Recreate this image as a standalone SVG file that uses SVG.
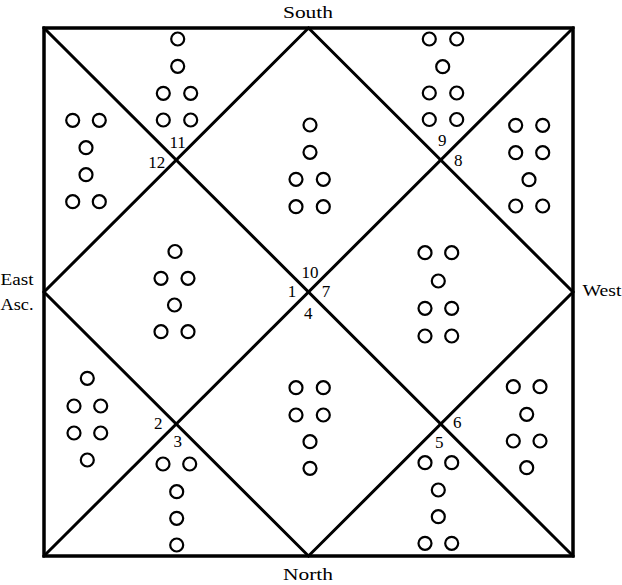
<svg xmlns="http://www.w3.org/2000/svg" width="622" height="585" viewBox="0 0 622 585">
<style>
.ln{stroke:#000;stroke-width:3;fill:none;stroke-linecap:square}
.bd{stroke:#000;stroke-width:3.5;fill:none}
circle{fill:#fff;stroke:#000;stroke-width:2.2}
text{font-family:"Liberation Serif","Times New Roman",serif;font-size:17px;fill:#000;text-anchor:middle}
</style>
<rect width="622" height="585" fill="#fff"/>
<g id="connectors">
<rect class="bd" x="44" y="28" width="529" height="528"/>
<line class="ln" x1="44" y1="28" x2="573" y2="556"/>
<line class="ln" x1="573" y1="28" x2="44" y2="556"/>
<polygon class="ln" points="308.5,28 573,292 308.5,556 44,292"/>
</g>
<g id="labels">
<text x="308" y="18" textLength="50" lengthAdjust="spacingAndGlyphs">South</text>
<text x="308" y="580" textLength="50" lengthAdjust="spacingAndGlyphs">North</text>
<text x="17" y="285" textLength="33" lengthAdjust="spacingAndGlyphs">East</text>
<text x="17" y="310" textLength="33" lengthAdjust="spacingAndGlyphs">Asc.</text>
<text x="602" y="296" textLength="39" lengthAdjust="spacingAndGlyphs">West</text>
</g>
<g id="house1"><text x="292" y="297">1</text>
<circle cx="175" cy="251.5" r="6.5"/><circle cx="161" cy="278.3" r="6.5"/><circle cx="188" cy="278.3" r="6.5"/><circle cx="174.5" cy="305" r="6.5"/><circle cx="161" cy="331.7" r="6.5"/><circle cx="188" cy="331.7" r="6.5"/></g>
<g id="house2"><text x="158.3" y="428.5">2</text>
<circle cx="87.3" cy="378.3" r="6.5"/><circle cx="74" cy="406" r="6.5"/><circle cx="100.7" cy="406" r="6.5"/><circle cx="74" cy="433" r="6.5"/><circle cx="100.7" cy="433" r="6.5"/><circle cx="87.3" cy="460" r="6.5"/></g>
<g id="house3"><text x="177.7" y="446.5">3</text>
<circle cx="163" cy="464" r="6.5"/><circle cx="189.7" cy="464" r="6.5"/><circle cx="176.7" cy="491.7" r="6.5"/><circle cx="176.7" cy="518.3" r="6.5"/><circle cx="176.7" cy="545" r="6.5"/></g>
<g id="house4"><text x="308.3" y="318.5">4</text>
<circle cx="296" cy="387.7" r="6.5"/><circle cx="323.3" cy="387.7" r="6.5"/><circle cx="296" cy="415" r="6.5"/><circle cx="323.3" cy="415" r="6.5"/><circle cx="310" cy="441.7" r="6.5"/><circle cx="310" cy="468.3" r="6.5"/></g>
<g id="house5"><text x="439.3" y="447.5">5</text>
<circle cx="425" cy="462.7" r="6.5"/><circle cx="451.7" cy="462.7" r="6.5"/><circle cx="438.3" cy="490" r="6.5"/><circle cx="438.3" cy="516.7" r="6.5"/><circle cx="425" cy="543.3" r="6.5"/><circle cx="451.7" cy="543.3" r="6.5"/></g>
<g id="house6"><text x="457.3" y="427.5">6</text>
<circle cx="513.3" cy="386.7" r="6.5"/><circle cx="540" cy="386.7" r="6.5"/><circle cx="526.7" cy="414.3" r="6.5"/><circle cx="513.3" cy="441" r="6.5"/><circle cx="540" cy="441" r="6.5"/><circle cx="526.7" cy="467.7" r="6.5"/></g>
<g id="house7"><text x="326" y="297">7</text>
<circle cx="425" cy="252.7" r="6.5"/><circle cx="451.7" cy="252.7" r="6.5"/><circle cx="438.3" cy="281" r="6.5"/><circle cx="425" cy="308.3" r="6.5"/><circle cx="451.7" cy="308.3" r="6.5"/><circle cx="425" cy="336" r="6.5"/><circle cx="451.7" cy="336" r="6.5"/></g>
<g id="house8"><text x="458.3" y="166">8</text>
<circle cx="515.7" cy="125.3" r="6.5"/><circle cx="542.7" cy="125.3" r="6.5"/><circle cx="515.7" cy="152.7" r="6.5"/><circle cx="542.7" cy="152.7" r="6.5"/><circle cx="529" cy="179.7" r="6.5"/><circle cx="515.7" cy="206" r="6.5"/><circle cx="542.7" cy="206" r="6.5"/></g>
<g id="house9"><text x="442.3" y="146">9</text>
<circle cx="429.3" cy="39" r="6.5"/><circle cx="456.7" cy="39" r="6.5"/><circle cx="442.7" cy="66.7" r="6.5"/><circle cx="429.3" cy="93" r="6.5"/><circle cx="456.7" cy="93" r="6.5"/><circle cx="429.3" cy="119.5" r="6.5"/><circle cx="456.7" cy="119.5" r="6.5"/></g>
<g id="house10"><text x="310" y="277.5">10</text>
<circle cx="310" cy="125" r="6.5"/><circle cx="310" cy="152.3" r="6.5"/><circle cx="296" cy="179.3" r="6.5"/><circle cx="323.3" cy="179.3" r="6.5"/><circle cx="296" cy="206.7" r="6.5"/><circle cx="323.3" cy="206.7" r="6.5"/></g>
<g id="house11"><text x="177.7" y="147.5">11</text>
<circle cx="177.7" cy="39" r="6.5"/><circle cx="177.7" cy="66.3" r="6.5"/><circle cx="163.3" cy="93.3" r="6.5"/><circle cx="190.7" cy="93.3" r="6.5"/><circle cx="163.3" cy="120" r="6.5"/><circle cx="190.7" cy="120" r="6.5"/></g>
<g id="house12"><text x="156.7" y="168">12</text>
<circle cx="72.7" cy="120.3" r="6.5"/><circle cx="99.3" cy="120.3" r="6.5"/><circle cx="86" cy="147.7" r="6.5"/><circle cx="86" cy="174.7" r="6.5"/><circle cx="72.7" cy="201.7" r="6.5"/><circle cx="99.3" cy="201.7" r="6.5"/></g>
</svg>
